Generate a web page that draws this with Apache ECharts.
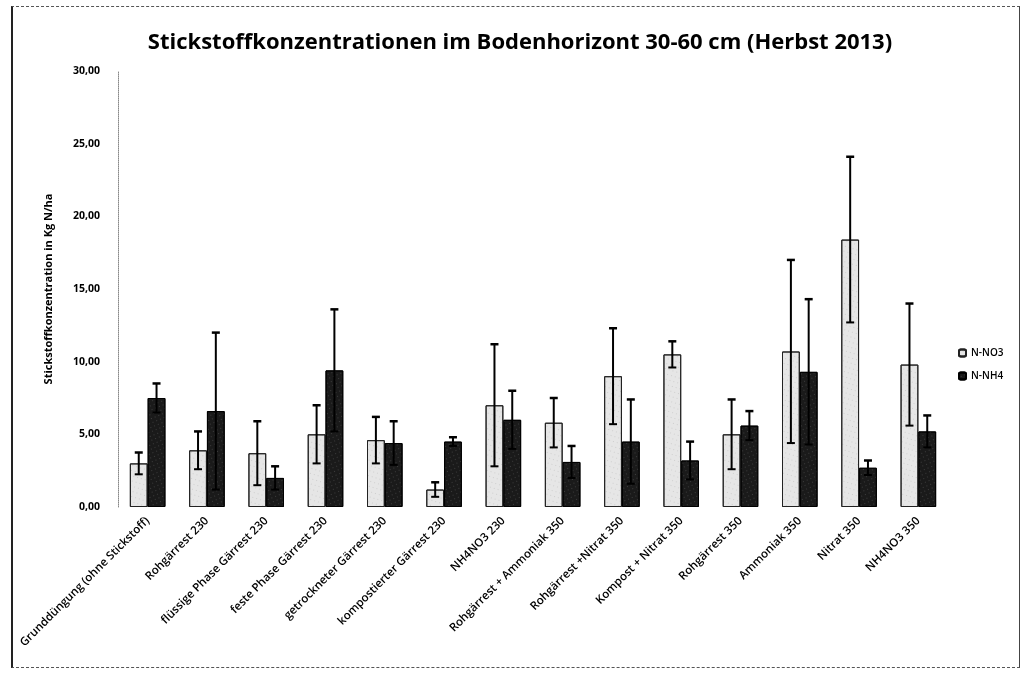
<!DOCTYPE html>
<html>
<head>
<meta charset="utf-8">
<script src="https://cdn.jsdelivr.net/npm/echarts@6/dist/echarts.min.js"></script>
<style>
html,body{margin:0;padding:0;background:#fff;}
#frame{position:absolute;left:11px;top:6px;width:1006px;height:660px;border-top:1px dashed #555;border-bottom:1px dashed #555;border-left:2px solid #222;border-right:1px solid #444;}
#chart{position:absolute;left:0;top:0;width:1028px;height:674px;}
</style>
</head>
<body>
<div id="frame"></div>
<div id="chart"></div>
<script>
const categories = [
  'Grunddüngung (ohne Stickstoff)',
  'Rohgärrest 230',
  'flüssige Phase Gärrest 230',
  'feste Phase Gärrest 230',
  'getrockneter Gärrest 230',
  'kompostierter Gärrest 230',
  'NH4NO3 230',
  'Rohgärrest + Ammoniak 350',
  'Rohgärrest +Nitrat 350',
  'Kompost + Nitrat 350',
  'Rohgärrest 350',
  'Ammoniak 350',
  'Nitrat 350',
  'NH4NO3 350'
];
const no3    = [3.0, 3.9, 3.7, 5.0, 4.6, 1.2, 7.0, 5.8, 9.0, 10.5, 5.0, 10.7, 18.4, 9.8];
const no3Err = [0.75, 1.3, 2.2, 2.0, 1.6, 0.5, 4.2, 1.7, 3.3, 0.9, 2.4, 6.3, 5.7, 4.2];
const nh4    = [7.5, 6.6, 2.0, 9.4, 4.4, 4.5, 6.0, 3.1, 4.5, 3.2, 5.6, 9.3, 2.7, 5.2];
const nh4Err = [1.0, 5.4, 0.8, 4.2, 1.5, 0.3, 2.0, 1.1, 2.9, 1.3, 1.0, 5.0, 0.5, 1.1];
const seriesNames = ['N-NO3', 'N-NH4'];
const yTicks = [0, 5, 10, 15, 20, 25, 30];

const chart = echarts.init(document.getElementById('chart'), null, {renderer: 'canvas'});
const BAR_RATIO = 0.3;
const font = "'Open Sans', 'Liberation Sans', sans-serif";

function errSeries(vals, errs, side) {
  return {
    type: 'custom',
    z: 5,
    silent: true,
    data: vals.map((v, i) => [i, v, errs[i]]),
    renderItem: function (params, api) {
      const idx = api.value(0);
      const band = api.size([1, 0])[0];
      const bw = band * BAR_RATIO;
      const v = api.value(1), e = api.value(2);
      const top = api.coord([idx, v + e]);
      const bot = api.coord([idx, Math.max(0, v - e)]);
      const x = top[0] + side * bw / 2;
      const capW = 4;
      return {
        type: 'group',
        children: [
          {type: 'line', shape: {x1: x, y1: top[1], x2: x, y2: bot[1]}, style: {stroke: '#000', lineWidth: 2}},
          {type: 'line', shape: {x1: x - capW, y1: top[1], x2: x + capW, y2: top[1]}, style: {stroke: '#000', lineWidth: 2.5}},
          {type: 'line', shape: {x1: x - capW, y1: bot[1], x2: x + capW, y2: bot[1]}, style: {stroke: '#000', lineWidth: 2}}
        ]
      };
    }
  };
}

chart.setOption({
  animation: false,
  backgroundColor: 'transparent',
  aria: {enabled: true, decal: {show: true}},
  title: {
    text: 'Stickstoffkonzentrationen im Bodenhorizont 30-60 cm (Herbst 2013)',
    left: 515, top: 27, textAlign: 'center',
    textStyle: {fontFamily: font, fontSize: 22, fontWeight: 'bold', color: '#000'}
  },
  legend: {
    orient: 'vertical',
    left: 953, top: 343,
    itemWidth: 7, itemHeight: 7, itemGap: 13,
    data: seriesNames,
    textStyle: {fontFamily: font, fontSize: 10, fontWeight: 600, color: '#000'}
  },
  grid: {left: 118, right: 80, top: 71, bottom: 167},
  xAxis: {
    type: 'category',
    data: categories,
    axisLine: {show: false},
    axisTick: {show: false},
    axisLabel: {rotate: 45, interval: 0, margin: 12, fontFamily: font, fontSize: 11.5, fontWeight: 600, color: '#000'}
  },
  yAxis: {
    type: 'value',
    min: 0, max: 30, interval: 5,
    name: 'Stickstoffkonzentration in Kg N/ha',
    nameLocation: 'middle', nameRotate: 90, nameGap: 64,
    nameTextStyle: {fontFamily: font, fontSize: 11, fontWeight: 'bold', color: '#000'},
    axisLine: {show: true, lineStyle: {color: '#888', type: 'dotted', width: 1}},
    axisTick: {show: false},
    splitLine: {show: false},
    axisLabel: {
      margin: 18, fontFamily: font, fontSize: 10.5, fontWeight: 'bold', color: '#000',
      formatter: v => yTicks.includes(v) ? v.toFixed(2).replace('.', ',') : ''
    }
  },
  series: [
    {
      name: seriesNames[0], type: 'bar', data: no3,
      barWidth: '30%', barGap: '0%',
      itemStyle: {color: '#e6e6e6', borderColor: '#222', borderWidth: 1,
        decal: {symbol: 'rect', symbolSize: 0.6, color: 'rgba(0,0,0,0.35)', dashArrayX: [1, 3], dashArrayY: [1, 4], rotation: 0.3}}
    },
    {
      name: seriesNames[1], type: 'bar', data: nh4,
      barWidth: '30%', barGap: '0%',
      itemStyle: {color: '#1a1a1a', borderColor: '#000', borderWidth: 1,
        decal: {symbol: 'rect', symbolSize: 0.6, color: 'rgba(255,255,255,0.5)', dashArrayX: [1, 3], dashArrayY: [1, 3], rotation: -0.4}}
    },
    errSeries(no3, no3Err, -1),
    errSeries(nh4, nh4Err, 1)
  ]
});
</script>
</body>
</html>
